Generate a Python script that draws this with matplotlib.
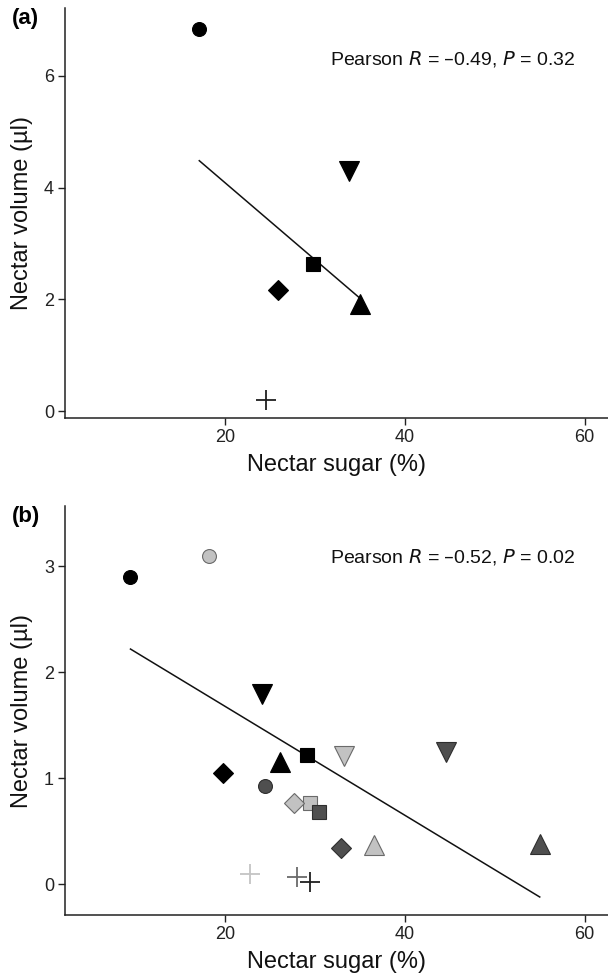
import numpy as np
import matplotlib.pyplot as plt

plt.rcParams['font.family'] = ['Liberation Sans', 'DejaVu Sans']

# panel (a): one population, six species
species_a = ['circle', 'down', 'square', 'diamond', 'up', 'plus']
sugar_a = [17.1, 33.8, 29.8, 25.85, 35.0, 24.5]
volume_a = [6.83, 4.29, 2.63, 2.16, 1.92, 0.20]
pop_a = ['black'] * 6
fit_a_x = [17.1, 34.85]
fit_a_y = [4.48, 2.04]

# panel (b): six species x three populations
species_b = ['circle', 'circle', 'circle', 'down', 'down', 'down',
             'square', 'square', 'square', 'diamond', 'diamond', 'diamond',
             'up', 'up', 'up', 'plus', 'plus', 'plus']
pop_b = ['black', 'light', 'dark'] * 5 + ['light', 'dark', 'black']
sugar_b = [9.44, 18.15, 24.4, 24.05, 33.19, 44.57,
           29.05, 29.44, 30.39, 19.7, 27.59, 32.84,
           26.12, 36.55, 55.0, 22.8, 27.97, 29.4]
volume_b = [2.90, 3.10, 0.93, 1.80, 1.21, 1.25,
            1.22, 0.77, 0.68, 1.05, 0.77, 0.34,
            1.15, 0.37, 0.38, 0.10, 0.066, 0.025]
fit_b_x = [9.44, 55.0]
fit_b_y = [2.22, -0.12]

stats_a = 'Pearson $\\it{R}$ = \u20130.49, $\\it{P}$ = 0.32'
stats_b = 'Pearson $\\it{R}$ = \u20130.52, $\\it{P}$ = 0.02'

markers = {'circle': ('o', 10), 'down': ('v', 14), 'square': ('s', 10),
           'diamond': ('D', 10), 'up': ('^', 14), 'plus': ('+', 14)}
fills = {'black': '#000000', 'light': '#c2c2c2', 'dark': '#4f4f4f'}
edges = {'black': '#000000', 'light': '#6a6a6a', 'dark': '#2e2e2e'}
plus_cols = {'black': '#202020', 'light': '#c4c4c4', 'dark': '#6a6a6a'}


def draw_panel(ax, sugar, volume, species, pop, fit_x, fit_y, stats, label,
               ylim, yticks, text_y):
    ax.plot(fit_x, fit_y, color='#111111', lw=1.1, zorder=1)
    for x, y, sp, p in zip(sugar, volume, species, pop):
        m, ms = markers[sp]
        if sp == 'plus':
            ax.plot(x, y, marker=m, ms=ms, mew=1.3, color=plus_cols[p],
                    ls='none', zorder=3)
        else:
            ax.plot(x, y, marker=m, ms=ms, mfc=fills[p], mec=edges[p],
                    mew=0.8, ls='none', zorder=3)
    ax.set_xlim(2.15, 62.6)
    ax.set_ylim(*ylim)
    ax.set_xticks([20, 40, 60])
    ax.set_yticks(yticks)
    for s in ['top', 'right']:
        ax.spines[s].set_visible(False)
    for s in ['left', 'bottom']:
        ax.spines[s].set_color('#222222')
        ax.spines[s].set_linewidth(1.1)
    ax.tick_params(length=5, width=1.0, color='#222222', labelsize=13,
                   labelcolor='#222222', pad=3)
    ax.set_xlabel('Nectar sugar (%)', fontsize=17, color='#111111', labelpad=6)
    ax.set_ylabel('Nectar volume (\u00b5l)', fontsize=17, color='#111111',
                  labelpad=8)
    ax.text(31.6, text_y, stats, fontsize=14, ha='left', va='center',
            color='#111111')
    ax.text(-0.097, 1.0, label, transform=ax.transAxes, fontsize=16,
            fontweight='bold', ha='left', va='top')


fig = plt.figure(figsize=(6.08, 9.75), dpi=100)
ax_a = fig.add_axes([65 / 608, 1 - 418 / 975, 1 - 65 / 608, (418 - 8) / 975])
ax_b = fig.add_axes([65 / 608, 1 - 915 / 975, 1 - 65 / 608, (915 - 506) / 975])

draw_panel(ax_a, sugar_a, volume_a, species_a, pop_a, fit_a_x, fit_a_y,
           stats_a, '(a)', (-0.12, 7.21), [0, 2, 4, 6], 6.29)
draw_panel(ax_b, sugar_b, volume_b, species_b, pop_b, fit_b_x, fit_b_y,
           stats_b, '(b)', (-0.29, 3.57), [0, 1, 2, 3], 3.09)

fig.savefig('out.png', dpi=100)
